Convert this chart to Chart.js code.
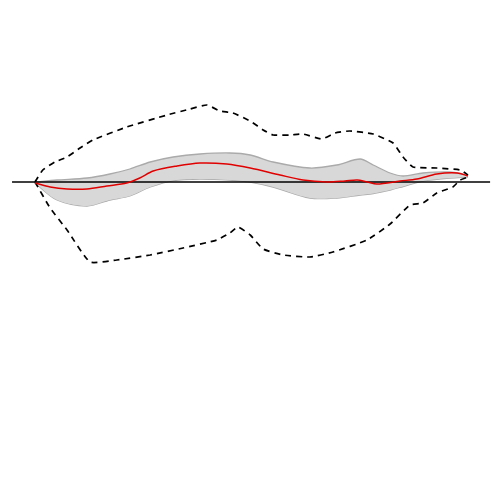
<!DOCTYPE html>
<html>
<head>
<meta charset="utf-8">
<script src="https://cdn.jsdelivr.net/npm/chart.js@4"></script>
<style>
  html, body { margin: 0; padding: 0; background: #fff; }
  #wrap { width: 500px; height: 500px; }
</style>
</head>
<body>
<div id="wrap"><canvas id="chart"></canvas></div>
<script>
// mean line
const meanX = [0, 3.5, 7.4, 12.0, 16.6, 21.2, 24.2, 27.3, 32.8, 38.1, 44.3, 49.7, 56.6, 61.9, 67.4, 71.6, 74.4, 76.7, 79.0, 84.3, 88.2, 92.8, 97.5, 100];
const meanY = [-0.1, -0.5, -0.7, -0.7, -0.4, -0.1, 0.4, 1.1, 1.6, 1.9, 1.8, 1.4, 0.7, 0.2, 0, 0.1, 0.2, 0, -0.2, 0.1, 0.3, 0.8, 0.9, 0.6];

// shaded band (same x for both edges)
const bandX = [0, 5.1, 12.0, 17.3, 21.9, 26.6, 31.9, 38.1, 45.0, 49.7, 55.0, 63.5, 69.7, 75.1, 78.1, 82.0, 85.0, 89.6, 95.8, 100];
const bandHigh = [0, 0.2, 0.4, 0.8, 1.3, 2.0, 2.5, 2.8, 2.9, 2.7, 2.0, 1.4, 1.7, 2.3, 1.7, 0.9, 0.6, 0.9, 1.0, 0.7];
const bandLow = [-0.1, -1.8, -2.4, -1.8, -1.4, -0.5, 0.15, 0.3, 0.2, 0, -0.5, -1.6, -1.6, -1.3, -1.15, -0.8, -0.45, 0.1, 0.4, 0.5];

// dashed envelope
const maxX = [0, 1.8, 4.6, 7.4, 10.4, 13.4, 21.2, 30.5, 35.8, 39.7, 42.7, 45.7, 49.7, 52.7, 55.0, 58.9, 61.9, 66.3, 69.3, 72.7, 78.1, 82.7, 85.0, 87.3, 92.8, 98.2, 100];
const maxY = [0, 1.2, 2.0, 2.5, 3.4, 4.2, 5.5, 6.7, 7.3, 7.7, 7.1, 6.9, 6.1, 5.2, 4.7, 4.7, 4.8, 4.3, 4.9, 5.1, 4.8, 3.9, 2.5, 1.5, 1.4, 1.2, 0.7];
const minX = [0, 3.5, 7.4, 12.7, 18.9, 26.6, 34.2, 42.0, 45.0, 46.9, 49.7, 52.7, 57.3, 63.5, 68.8, 76.7, 82.0, 86.6, 89.6, 92.8, 96.5, 98.2, 100];
const minY = [0, -2.6, -4.8, -8.0, -7.8, -7.3, -6.6, -5.8, -5.1, -4.5, -5.3, -6.7, -7.3, -7.5, -7.0, -5.8, -4.2, -2.3, -2.1, -1.1, -0.5, 0.2, 0.5];

// zero reference line
const zeroX = [-5.3, 105.1];
const zeroY = [0, 0];

const pts = (xs, ys) => xs.map((x, i) => ({x: x, y: ys[i]}));

const line = (data, color, width, extra) => Object.assign({
  data: data,
  borderColor: color,
  borderWidth: width,
  pointRadius: 0,
  tension: 0.3,
  fill: false
}, extra || {});

new Chart(document.getElementById('chart'), {
  type: 'line',
  data: {
    datasets: [
      line(pts(meanX, meanY), 'rgb(225, 0, 0)', 1.5),
      line(pts(zeroX, zeroY), '#000', 1.5, {tension: 0}),
      line(pts(maxX, maxY), '#000', 1.7, {borderDash: [6, 5], tension: 0.15}),
      line(pts(minX, minY), '#000', 1.7, {borderDash: [6, 5], tension: 0.15}),
      line(pts(bandX, bandHigh), 'rgb(170, 170, 170)', 1.3, {fill: '+1', backgroundColor: 'rgb(216, 216, 216)'}),
      line(pts(bandX, bandLow), 'rgb(170, 170, 170)', 1.3)
    ]
  },
  options: {
    responsive: true,
    maintainAspectRatio: false,
    animation: false,
    layout: { padding: 0 },
    plugins: { legend: { display: false }, tooltip: { enabled: false } },
    scales: {
      x: { type: 'linear', min: -8.08, max: 107.39, display: false },
      y: { min: -31.8, max: 18.2, display: false }
    }
  }
});
</script>
</body>
</html>
